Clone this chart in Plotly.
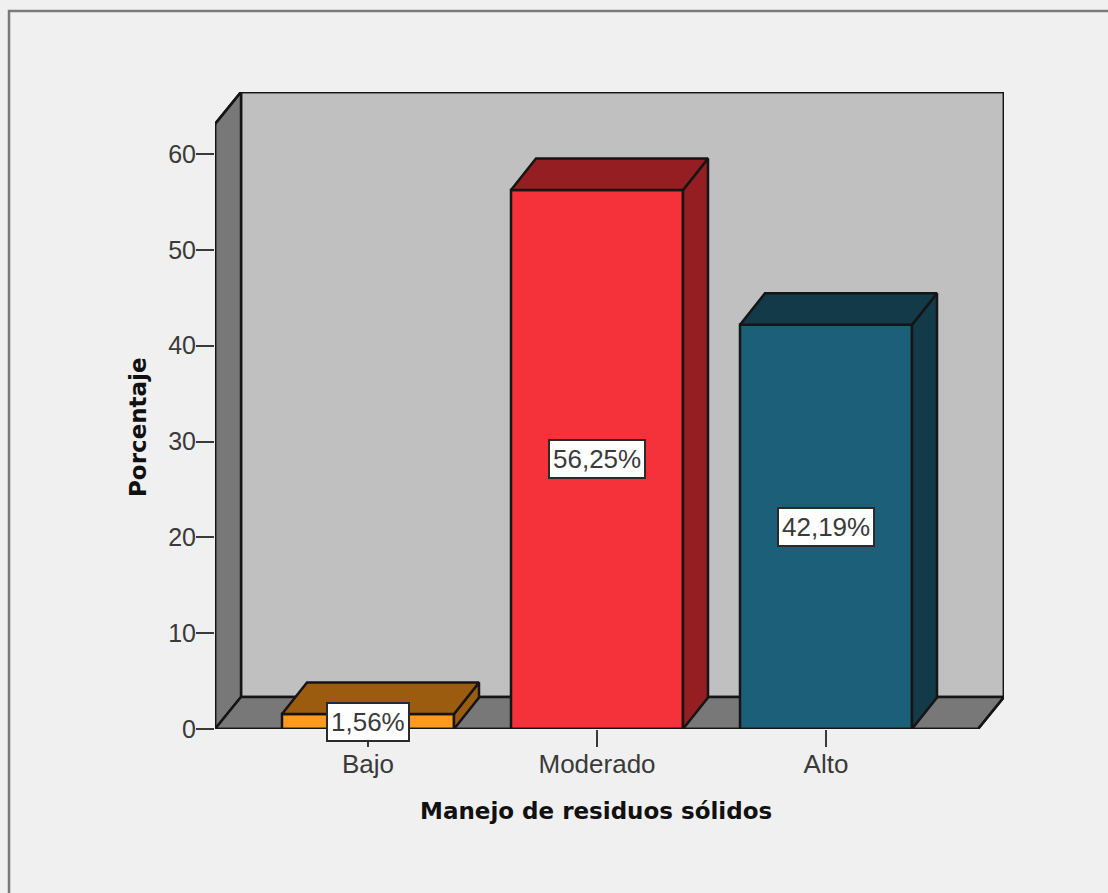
import plotly.graph_objects as go

# Survey result: share of respondents per level of solid-waste handling
categories = ["Bajo", "Moderado", "Alto"]
percentages = [1.56, 56.25, 42.19]
y_ticks = [0, 10, 20, 30, 40, 50, 60]
face_colors = ["#FF9A1E", "#F5323A", "#1C5F78"]
shade_colors = ["#9C5C10", "#951E22", "#123A48"]

WIDTH, HEIGHT = 1108, 893
LEFT, RIGHT, TOP, BOTTOM = 215, 1004, 92, 729
PX_PER_CATEGORY = 229.0
PX_PER_UNIT = 9.583
CENTER_FIRST = 368

x_min = (LEFT - CENTER_FIRST) / PX_PER_CATEGORY
x_max = (RIGHT - CENTER_FIRST) / PX_PER_CATEGORY
y_max = (BOTTOM - TOP) / PX_PER_UNIT
# Depth of the box and, slightly smaller, of the bars standing in it
dx = 26 / PX_PER_CATEGORY
dy = 32 / PX_PER_UNIT
bar_dx = 25 / PX_PER_CATEGORY
bar_dy = 31.5 / PX_PER_UNIT
bar_width = 172 / PX_PER_CATEGORY

EDGE = dict(color="#151515", width=2.5)
TEXT = "#3A3A3A"
BACKGROUND = "#F0F0F0"


def polygon(xs, ys):
    path = "M " + " L ".join(f"{a},{b}" for a, b in zip(xs, ys)) + " Z"
    return path


def wall(xs, ys, fill):
    return dict(type="path", path=polygon(xs, ys), xref="x", yref="y",
                fillcolor=fill, line=EDGE, layer="below")


def px_x(px):
    return (px - LEFT) / (RIGHT - LEFT)


def px_y(px):
    return (BOTTOM - px) / (BOTTOM - TOP)


fig = go.Figure()

# Front faces of the bars
fig.add_trace(go.Bar(
    x=list(range(len(categories))), y=percentages, width=bar_width,
    marker=dict(color=face_colors, line=EDGE), hoverinfo="skip", showlegend=False,
))

# Outer outline of the box, drawn unclipped so its full stroke shows
fig.add_trace(go.Scatter(
    x=[x_min, x_min, x_min + dx, x_max, x_max, x_max - dx, x_min],
    y=[0, y_max - dy, y_max, y_max, dy, 0, 0],
    mode="lines", line=dict(color=EDGE["color"], width=EDGE["width"], simplify=False),
    cliponaxis=False, hoverinfo="skip", showlegend=False,
))

# Top and side faces give each bar its depth
half = bar_width / 2
for i, value in enumerate(percentages):
    top_x = [i - half, i + half, i + half + bar_dx, i - half + bar_dx, i - half]
    top_y = [value, value, value + bar_dy, value + bar_dy, value]
    side_x = [i + half, i + half + bar_dx, i + half + bar_dx, i + half, i + half]
    side_y = [0, bar_dy, value + bar_dy, value, 0]
    for xs, ys in ((side_x, side_y), (top_x, top_y)):
        fig.add_trace(go.Scatter(
            x=xs, y=ys, mode="lines", fill="toself", fillcolor=shade_colors[i],
            line=dict(color=EDGE["color"], width=EDGE["width"], simplify=False),
            cliponaxis=False, hoverinfo="skip", showlegend=False,
        ))

# Box of the chart: back wall, left wall, floor, plus the outer frame
shapes = [
    wall([x_min + dx, x_max, x_max, x_min + dx], [dy, dy, y_max, y_max], "#C0C0C0"),
    wall([x_min, x_min + dx, x_min + dx, x_min],
         [0, dy, y_max, y_max - dy], "#787878"),
    wall([x_min, x_max - dx, x_max, x_min + dx], [0, 0, dy, dy], "#787878"),
    dict(type="rect", xref="paper", yref="paper",
         x0=px_x(9), x1=px_x(WIDTH + 20), y0=px_y(HEIGHT + 20), y1=px_y(11),
         line=dict(color="#7A7A7A", width=2.5), fillcolor="rgba(0,0,0,0)", layer="below"),
]

# Value labels in white boxes at mid-height of every bar
annotations = [
    dict(x=i, y=value / 2, xref="x", yref="y",
         text=f"{value:.2f}%".replace(".", ","), showarrow=False,
         font=dict(family="Liberation Sans", size=26, color=TEXT),
         bgcolor="white", bordercolor="#2A2A2A", borderwidth=2, borderpad=3)
    for i, value in enumerate(percentages)
]
annotations += [
    dict(x=px_x(596), y=px_y(811), xref="paper", yref="paper", showarrow=False,
         xanchor="center", yanchor="middle",
         text="<b>Manejo de residuos sólidos</b>",
         font=dict(family="DejaVu Sans", size=23, color="#111111")),
    dict(x=px_x(138), y=px_y(427), xref="paper", yref="paper", showarrow=False,
         xanchor="center", yanchor="middle",
         text="<b>Porcentaje</b>", textangle=-90,
         font=dict(family="DejaVu Sans", size=23, color="#111111")),
]

fig.update_layout(
    width=WIDTH, height=HEIGHT, autosize=False,
    margin=dict(l=LEFT, r=WIDTH - RIGHT, t=TOP, b=HEIGHT - BOTTOM, pad=0),
    paper_bgcolor=BACKGROUND, plot_bgcolor=BACKGROUND,
    shapes=shapes, annotations=annotations, showlegend=False,
    xaxis=dict(
        range=[x_min, x_max], tickmode="array",
        tickvals=list(range(len(categories))), ticktext=categories,
        ticks="outside", ticklen=17, tickwidth=2, tickcolor="#3A3A3A",
        ticklabelstandoff=-5,
        showgrid=False, zeroline=False, showline=False,
        tickfont=dict(family="Liberation Sans", size=26, color=TEXT),
    ),
    yaxis=dict(
        range=[0, y_max], tickmode="array", tickvals=y_ticks,
        ticks="outside", ticklen=18, tickwidth=2, tickcolor="#3A3A3A",
        ticklabelstandoff=-5,
        showgrid=False, zeroline=False, showline=False,
        tickfont=dict(family="Liberation Sans", size=25, color=TEXT),
    ),
)

fig.write_html("out.html")
